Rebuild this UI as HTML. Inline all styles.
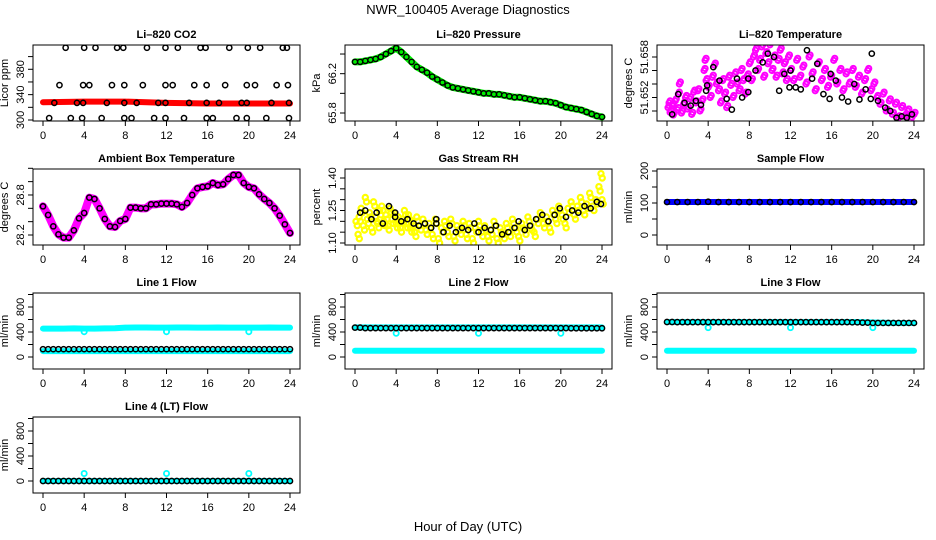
<!DOCTYPE html>
<html><head><meta charset="utf-8"><style>
html,body{margin:0;padding:0;background:#fff;}
svg{display:block;font-family:"Liberation Sans",Arial,sans-serif;}
</style></head><body>
<svg id="fig" width="936" height="540" viewBox="0 0 936 540">
<text x="468" y="14" text-anchor="middle" font-size="13">NWR_100405  Average Diagnostics</text>
<text x="468" y="531" text-anchor="middle" font-size="13">Hour of Day (UTC)</text>
</svg>
<script>
// ---- data ----
const xTicks = [0,4,8,12,16,20,24];
const hourly = [0,1,2,3,4,5,6,7,8,9,10,11,12,13,14,15,16,17,18,19,20,21,22,23,24];
const halfHourly = [0,0.5,1,1.5,2,2.5,3,3.5,4,4.5,5,5.5,6,6.5,7,7.5,8,8.5,9,9.5,10,10.5,11,11.5,12,12.5,13,13.5,14,14.5,15,15.5,16,16.5,17,17.5,18,18.5,19,19.5,20,20.5,21,21.5,22,22.5,23,23.5,24];

const co2BandHours = [0,4,8,12,16,20,24];
const co2BandVals = [328,329,329,327,326,326,326];
const co2TopHours = [2.2,4.0,5.1,7.2,7.8,10.1,11.9,13.1,15.3,15.8,18.1,19.9,21.1,23.3,23.7];
const co2MidHours = [1.6,3.9,4.5,6.7,7.9,9.7,11.9,12.6,14.7,15.9,17.7,19.8,20.6,22.7,23.8];
const co2BandPtHours = [1.1,3.3,3.9,6.2,7.9,9.1,11.2,11.9,14.2,15.9,17.1,19.3,19.8,22.2,23.9];
const co2LowHours = [0.6,2.7,3.8,5.7,7.9,8.6,10.8,11.9,13.7,15.9,16.5,18.8,19.8,21.7,23.9];
const co2TopVal = 414, co2MidVal = 355, co2BandPtVal = 327, co2LowVal = 303;

const pressureVals = [66.32,66.32,66.33,66.34,66.35,66.37,66.40,66.43,66.46,66.42,66.37,66.32,66.27,66.24,66.21,66.17,66.14,66.11,66.08,66.06,66.05,66.04,66.03,66.02,66.01,66.00,66.00,65.99,65.99,65.98,65.97,65.96,65.96,65.95,65.94,65.93,65.92,65.92,65.91,65.90,65.88,65.86,65.85,65.84,65.83,65.81,65.79,65.77,65.76];

const tempHours = [0.1,0.2,0.3,0.5,0.6,0.8,1.0,1.1,1.2,1.4,1.6,1.8,2.0,2.2,2.4,2.6,2.8,3.0,3.2,3.4,3.6,3.7,3.8,4.0,4.2,4.4,4.6,4.8,5.0,5.2,5.4,5.6,5.8,6.0,6.2,6.4,6.6,6.8,7.0,7.2,7.4,7.6,7.8,8.0,8.2,8.4,8.6,8.8,9.0,9.2,9.4,9.6,9.8,10.0,10.2,10.4,10.6,10.8,11.0,11.2,11.4,11.6,11.8,12.0,12.3,12.6,12.9,13.2,13.5,13.8,14.1,14.4,14.7,15.0,15.3,15.6,15.9,16.2,16.5,16.8,17.1,17.4,17.7,18.0,18.3,18.6,18.9,19.2,19.5,19.8,20.1,20.4,20.7,21.0,21.3,21.6,21.9,22.2,22.5,22.8,23.1,23.4,23.7,24.0];
const tempVals = [51.6505,51.6512,51.6498,51.6508,51.6494,51.6515,51.6502,51.6525,51.6540,51.6497,51.6510,51.6520,51.6503,51.6518,51.6495,51.6528,51.6512,51.6530,51.6500,51.6515,51.6560,51.6575,51.6545,51.6535,51.6520,51.6550,51.6568,51.6540,51.6530,51.6512,51.6545,51.6525,51.6505,51.6550,51.6538,51.6520,51.6555,51.6540,51.6530,51.6560,51.6545,51.6525,51.6552,51.6570,51.6545,51.6580,51.6590,51.6560,51.6575,51.6595,51.6550,51.6585,51.6570,51.6598,51.6560,51.6580,51.6550,51.6575,51.6590,51.6555,51.6570,51.6545,51.6580,51.6560,51.6545,51.6575,51.6550,51.6565,51.6540,51.6580,51.6555,51.6530,51.6570,51.6545,51.6560,51.6535,51.6550,51.6575,51.6540,51.6560,51.6530,51.6555,51.6540,51.6560,51.6535,51.6550,51.6525,51.6545,51.6560,51.6530,51.6540,51.6520,51.6510,51.6525,51.6500,51.6515,51.6495,51.6510,51.6490,51.6505,51.6492,51.6500,51.6488,51.6495];
const tempBlkHours = [0.5,1.1,1.7,2.3,2.8,3.3,3.8,3.9,4.5,5.1,5.8,6.3,6.8,7.3,7.9,7.9,8.6,9.3,9.8,10.4,10.9,11.4,11.9,12.0,12.5,13.0,13.6,14.1,14.6,15.2,15.8,15.9,16.4,17.0,17.6,18.2,18.7,19.3,19.8,19.9,20.5,21.2,21.7,22.3,22.8,23.3,23.8];
const tempBlkVals = [51.6495,51.6525,51.6512,51.6508,51.6515,51.6509,51.6530,51.6538,51.6565,51.6545,51.6518,51.6502,51.6548,51.6520,51.6528,51.6548,51.6560,51.6572,51.6585,51.6580,51.6530,51.6555,51.6535,51.6560,51.6535,51.6532,51.6590,51.6548,51.6570,51.6525,51.6518,51.6555,51.6545,51.6520,51.6514,51.6540,51.6517,51.6532,51.6518,51.6585,51.6515,51.6505,51.6500,51.6490,51.6492,51.6490,51.6495];

const ambientVals = [28.63,28.50,28.33,28.21,28.16,28.16,28.27,28.45,28.53,28.76,28.74,28.60,28.44,28.33,28.32,28.41,28.44,28.61,28.61,28.60,28.60,28.66,28.66,28.67,28.67,28.67,28.66,28.62,28.68,28.80,28.90,28.92,28.93,28.98,28.95,28.96,29.04,29.10,29.10,28.98,28.92,28.90,28.81,28.74,28.68,28.60,28.49,28.36,28.23];

const rhHours = [0.1,0.3,0.4,0.6,0.8,1.0,1.2,1.4,1.6,1.8,2.0,2.2,2.4,2.6,2.8,3.0,3.2,3.4,3.6,3.8,4.0,4.2,4.4,4.6,4.8,5.0,5.2,5.4,5.6,5.8,6.0,6.3,6.6,6.9,7.2,7.5,7.8,8.1,8.4,8.7,9.0,9.3,9.6,9.9,10.2,10.5,10.8,11.1,11.4,11.7,12.0,12.3,12.6,12.9,13.2,13.5,13.8,14.1,14.4,14.7,15.0,15.3,15.6,15.9,16.2,16.5,16.8,17.1,17.4,17.7,18.0,18.3,18.6,18.9,19.2,19.5,19.8,20.1,20.4,20.7,21.0,21.3,21.6,21.9,22.2,22.5,22.8,23.1,23.4,23.7,23.9,24.0];
const rhVals = [1.20,1.14,1.22,1.26,1.18,1.31,1.21,1.24,1.17,1.29,1.22,1.19,1.25,1.27,1.20,1.23,1.18,1.26,1.21,1.24,1.19,1.22,1.17,1.21,1.25,1.19,1.23,1.17,1.20,1.15,1.22,1.18,1.21,1.16,1.19,1.14,1.21,1.12,1.17,1.20,1.15,1.21,1.13,1.18,1.16,1.20,1.14,1.19,1.12,1.17,1.20,1.15,1.18,1.13,1.16,1.20,1.12,1.17,1.14,1.19,1.15,1.21,1.17,1.13,1.19,1.16,1.22,1.18,1.15,1.21,1.24,1.19,1.22,1.17,1.25,1.21,1.27,1.23,1.19,1.26,1.29,1.23,1.27,1.31,1.25,1.28,1.33,1.27,1.30,1.36,1.42,1.30];
const rhBlkHours = [0.5,1.0,1.6,2.1,2.7,3.3,3.9,3.9,4.5,5.1,5.7,6.2,6.8,7.4,7.9,7.9,8.6,9.2,9.8,10.4,11.0,11.6,12.0,12.6,13.2,13.7,14.3,14.9,15.5,15.9,16.5,17.0,17.6,18.2,18.8,19.4,19.9,20.5,21.1,21.7,22.3,22.9,23.5,23.9];
const rhBlkVals = [1.24,1.25,1.21,1.24,1.19,1.27,1.22,1.24,1.20,1.21,1.19,1.18,1.19,1.17,1.21,1.19,1.15,1.18,1.15,1.17,1.16,1.19,1.15,1.17,1.16,1.18,1.14,1.15,1.17,1.20,1.16,1.18,1.21,1.23,1.20,1.23,1.26,1.22,1.25,1.24,1.27,1.26,1.29,1.28];

const sampleBandVals = [103,103,103,103,103,103,103,103,103,103,103,103,103,103,103,103,103,103,103,103,103,103,103,103,103];
const sampleBlkVals = [103,103,103,103,104,103,103,103,103,103,103,103,103,103,103,103,103,103,103,103,103,103,103,103,103];

const dipHours = [4,12,20];
const line1Hi = [455,455,455,458,455,455,458,460,470,472,472,470,470,472,472,470,470,472,470,470,470,470,472,470,470];
const line1Lo = [95,95,95,95,95,95,95,95,95,95,95,95,95,95,95,95,95,95,95,95,95,95,95,95,95];
const line1Blk = [125,125,125,125,125,125,125,125,125,125,125,125,125,125,125,125,125,125,125,125,125,125,125,125,125];
const line1Dips = [405,405,405];
const line2Hi = [475,475,475,475,475,475,475,475,475,475,475,475,475,475,475,475,475,475,475,475,475,475,475,475,475];
const line2Lo = [100,100,100,100,100,100,100,100,100,100,100,100,100,100,100,100,100,100,100,100,100,100,100,100,100];
const line2Blk = [470,462,462,462,462,462,462,462,462,462,462,462,462,462,462,462,462,462,462,462,462,460,460,460,460];
const line2Dips = [380,380,380];
const line3Hi = [560,560,560,560,560,560,560,560,560,560,560,560,560,560,560,560,560,560,560,558,552,548,545,545,545];
const line3Lo = [100,100,100,100,100,100,100,100,100,100,100,100,100,100,100,100,100,100,100,100,100,100,100,100,100];
const line3Blk = [560,558,558,558,558,558,558,558,558,558,558,558,558,558,558,558,558,558,555,550,545,545,545,545,545];
const line3Dips = [470,470,470];
const line4Cyan = [0,0,0,0,0,0,0,0,0,0,0,0,0,0,0,0,0,0,0,0,0,0,0,0,0];
const line4Blk = [0,0,0,0,0,0,0,0,0,0,0,0,0,0,0,0,0,0,0,0,0,0,0,0,0];
const line4Dips = [120,120,120];

// ---- drawing ----
const NS = 'http://www.w3.org/2000/svg';
const svg = document.getElementById('fig');
function el(tag, parent){ const e = document.createElementNS(NS, tag); parent.appendChild(e); return e; }

function panel(cfg){
  const L = 33 + 312*cfg.col, R = 300 + 312*cfg.col;
  const T = 45 + 124*cfg.row, B = 121 + 124*cfg.row;
  const g = el('g', svg);
  
  
  const p = {g, L, R, T, B,
    xs: h => L + 10 + h*247/24,
    ys: v => T + cfg.off - (v - cfg.v0)*cfg.k};
  const title = el('text', g);
  
  
  title.setAttribute('x', (L+R)/2); title.setAttribute('y', T-7);
  title.setAttribute('text-anchor','middle'); title.setAttribute('font-size','11'); title.setAttribute('font-weight','bold');
  title.textContent = cfg.title;
  const yl = el('text', g);
  
  
  yl.setAttribute('transform', `translate(${L-25},${(T+B)/2}) rotate(-90)`);
  yl.setAttribute('text-anchor','middle'); yl.setAttribute('font-size','11');
  yl.textContent = cfg.ylab;
  xTicks.forEach(t => {
    const x = p.xs(t);
    const ln = el('line', g);
    
    
    ln.setAttribute('x1',x); ln.setAttribute('x2',x); ln.setAttribute('y1',B); ln.setAttribute('y2',B+5);
    ln.setAttribute('stroke','#000');
    const tx = el('text', g);
    
    
    tx.setAttribute('x',x); tx.setAttribute('y',B+18); tx.setAttribute('text-anchor','middle'); tx.setAttribute('font-size','11');
    tx.textContent = t;
  });
  cfg.ticks.forEach(t => {
    const y = p.ys(t);
    const ln = el('line', g);
    
    
    ln.setAttribute('x1',L-5); ln.setAttribute('x2',L); ln.setAttribute('y1',y); ln.setAttribute('y2',y);
    ln.setAttribute('stroke','#000');
  });
  cfg.labels.forEach((t,i) => {
    const y = p.ys(t);
    const tx = el('text', g);
    
    
    tx.setAttribute('transform', `translate(${L-9},${y}) rotate(-90)`);
    tx.setAttribute('text-anchor','middle'); tx.setAttribute('font-size','11');
    tx.textContent = cfg.labelText ? cfg.labelText[i] : t;
  });
  p.clip = 'clip' + cfg.name;
  const cp = el('clipPath', g); cp.setAttribute('id', p.clip);
  const cr = el('rect', cp); cr.setAttribute('x',L); cr.setAttribute('y',T); cr.setAttribute('width',R-L); cr.setAttribute('height',B-T);
  p.plot = el('g', g);
  
  
  p.plot.setAttribute('clip-path', `url(#${p.clip})`);
  const box = el('rect', g);
  
  
  box.setAttribute('x',L); box.setAttribute('y',T); box.setAttribute('width',R-L); box.setAttribute('height',B-T);
  box.setAttribute('fill','none'); box.setAttribute('stroke','#000');
  return p;
}
function band(p, hours, vals, color, w, name){
  const pl = el('polyline', p.plot);
  
  
  pl.setAttribute('points', hours.map((h,i)=>p.xs(h)+','+p.ys(vals[i])).join(' '));
  pl.setAttribute('fill','none'); pl.setAttribute('stroke',color); pl.setAttribute('stroke-width',w);
  pl.setAttribute('stroke-linecap','round'); pl.setAttribute('stroke-linejoin','round');
}
function pts(p, hours, vals, color, sw, name){
  hours.forEach((h,i) => {
    const v = Array.isArray(vals) ? vals[i] : vals;
    const c = el('circle', p.plot);
    
    
    c.setAttribute('cx', p.xs(h)); c.setAttribute('cy', p.ys(v)); c.setAttribute('r', 2.6);
    c.setAttribute('fill','none'); c.setAttribute('stroke',color); c.setAttribute('stroke-width',sw);
  });
}

let p = panel({name:'co2', title:'Li\u2013820 CO2', ylab:'Licor ppm', col:0,row:0, v0:300, off:75, k:0.634, ticks:[300,320,340,360,380,400], labels:[300,340,380]});
band(p, co2BandHours, co2BandVals, '#ff0000', 6, 'co2-band');
pts(p, co2TopHours, co2TopVal, '#000', 1.5, 'co2-point');
pts(p, co2MidHours, co2MidVal, '#000', 1.5, 'co2-point');
pts(p, co2BandPtHours, co2BandPtVal, '#000', 1.5, 'co2-point');
pts(p, co2LowHours, co2LowVal, '#000', 1.5, 'co2-point');

p = panel({name:'pressure', title:'Li\u2013820 Pressure', ylab:'kPa', col:1,row:0, v0:65.8, off:68, k:98.3, ticks:[65.8,66.0,66.2,66.4], labels:[65.8,66.2], labelText:['65.8','66.2']});
band(p, halfHourly, pressureVals, '#00ee00', 7, 'pressure-band');
pts(p, halfHourly, pressureVals, '#000', 1.4, 'pressure-point');

p = panel({name:'li820-temp', title:'Li\u2013820 Temperature', ylab:'degrees C', col:2,row:0, v0:51.65, off:66, k:6750, ticks:[51.650,51.652,51.654,51.656,51.658], labels:[51.652,51.658], labelText:['51.652','51.658']});
pts(p, tempHours, tempVals, '#ff00ff', 2, 'temp-raw-point');
pts(p, tempHours.map(h=>h+0.1), tempVals.map(v=>v+0.0003), '#ff00ff', 2, 'temp-raw-point');
pts(p, tempBlkHours, tempBlkVals, '#000', 1.5, 'temp-avg-point');

p = panel({name:'ambient-temp', title:'Ambient Box Temperature', ylab:'degrees C', col:0,row:1, v0:28.2, off:66, k:66.7, ticks:[28.2,28.4,28.6,28.8,29.0,29.2], labels:[28.2,28.8], labelText:['28.2','28.8']});
band(p, halfHourly, ambientVals, '#ff00ff', 8, 'ambient-band');
pts(p, halfHourly, ambientVals, '#000', 1.5, 'ambient-point');

p = panel({name:'rh', title:'Gas Stream RH', ylab:'percent', col:1,row:1, v0:1.10, off:74, k:216.7, ticks:[1.10,1.15,1.20,1.25,1.30,1.35,1.40], labels:[1.10,1.25,1.40], labelText:['1.10','1.25','1.40']});
pts(p, rhHours, rhVals, '#ffff00', 2.2, 'rh-raw-point');
pts(p, rhHours.map(h=>h+0.12), rhVals.map(v=>v-0.02), '#ffff00', 2.2, 'rh-raw-point');
pts(p, rhBlkHours, rhBlkVals, '#000', 1.5, 'rh-avg-point');

p = panel({name:'sample-flow', title:'Sample Flow', ylab:'ml/min', col:2,row:1, v0:0, off:66, k:0.32, ticks:[0,50,100,150,200], labels:[0,100,200]});
band(p, hourly, sampleBandVals, '#0000ff', 6, 'sample-band');
pts(p, hourly, sampleBlkVals, '#000', 1.5, 'sample-point');

const flows = [
  {name:'line1-flow', title:'Line 1 Flow', col:0,row:2, hi:line1Hi, lo:line1Lo, blk:line1Blk, dips:line1Dips},
  {name:'line2-flow', title:'Line 2 Flow', col:1,row:2, hi:line2Hi, lo:line2Lo, blk:line2Blk, dips:line2Dips},
  {name:'line3-flow', title:'Line 3 Flow', col:2,row:2, hi:line3Hi, lo:line3Lo, blk:line3Blk, dips:line3Dips},
  {name:'line4-flow', title:'Line 4 (LT) Flow', col:0,row:3, hi:line4Cyan, lo:null, blk:line4Blk, dips:line4Dips}
];
flows.forEach(f => {
  const q = panel({name:f.name, title:f.title, ylab:'ml/min', col:f.col, row:f.row, v0:0, off:64, k:0.0625, ticks:[0,200,400,600,800,1000], labels:[0,400,800]});
  band(q, hourly, f.hi, '#00ffff', 6, f.name + '-cyan-band');
  if (f.lo) band(q, hourly, f.lo, '#00ffff', 6, f.name + '-cyan-low-band');
  pts(q, dipHours, f.dips, '#00ffff', 1.8, f.name + '-cyan-outlier');
  pts(q, hourly, f.blk, '#000', 1.5, f.name + '-avg-point');
  pts(q, hourly.map(h=>h+0.5).slice(0,24), f.blk.slice(0,24), '#000', 1.5, f.name + '-avg-point');
});
</script>
</body></html>
